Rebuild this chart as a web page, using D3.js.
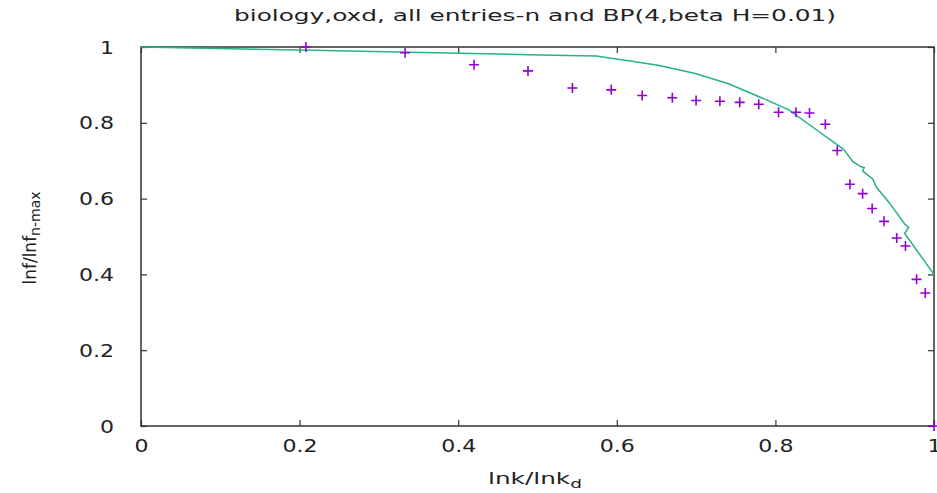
<!DOCTYPE html>
<html>
<head>
<meta charset="utf-8">
<script src="https://cdn.jsdelivr.net/npm/d3@7"></script>
<style>
  html, body { margin: 0; padding: 0; background: #fff; }
  svg { display: block; }
  text { font-family: "DejaVu Sans", sans-serif; fill: #222; }
</style>
</head>
<body>
<svg id="chart" width="937" height="493"></svg>
<script>
// Measured data: normalised information vs normalised lnk
const titleText = "biology,oxd, all entries-n and BP(4,beta H=0.01)";
const xTicks = [0, 0.2, 0.4, 0.6, 0.8, 1];
const yTicks = [0, 0.2, 0.4, 0.6, 0.8, 1];

// "all entries-n" points
const entryX = [0.208, 0.333, 0.420, 0.488, 0.544, 0.593, 0.632, 0.670, 0.700, 0.730,
                0.755, 0.779, 0.804, 0.826, 0.843, 0.863, 0.878, 0.894, 0.910, 0.922,
                0.937, 0.953, 0.964, 0.978, 0.989, 1.000];
const entryY = [1.000, 0.985, 0.953, 0.937, 0.892, 0.887, 0.872, 0.866, 0.859, 0.857,
                0.854, 0.849, 0.828, 0.828, 0.826, 0.796, 0.727, 0.638, 0.613, 0.574,
                0.540, 0.496, 0.475, 0.387, 0.351, 0.000];

// BP(4, beta H=0.01) curve
const bpX = [0.000, 0.200, 0.503, 0.574, 0.627, 0.652, 0.699, 0.741, 0.788, 0.817,
             0.852, 0.886, 0.898, 0.908, 0.912, 0.910, 0.923, 0.927, 0.944, 0.963,
             0.968, 0.963, 0.999, 1.000];
const bpY = [1.000, 0.992, 0.979, 0.976, 0.960, 0.952, 0.930, 0.903, 0.861, 0.834,
             0.781, 0.730, 0.697, 0.684, 0.682, 0.673, 0.651, 0.631, 0.588, 0.533,
             0.524, 0.508, 0.403, 0.398];

const svg = d3.select("#chart");
const margin = { left: 141, top: 47, right: 937 - 934, bottom: 493 - 426 };
const W = 934 - 141, H = 426 - 47;
const g = svg.append("g").attr("transform", `translate(${margin.left},${margin.top})`);

const x = d3.scaleLinear().domain([0, 1]).range([0, W]);
const y = d3.scaleLinear().domain([0, 1]).range([H, 0]);

const tickFont = 17, tickStretch = 1.3;
const fmt = d => d === 0 || d === 1 ? String(d) : d3.format(".1f")(d);

// bottom axis with inward ticks
const xAxis = g.append("g").attr("transform", `translate(0,${H})`)
  .call(d3.axisBottom(x).tickValues(xTicks).tickFormat(fmt).tickSize(-6).tickSizeOuter(0));
xAxis.selectAll(".tick text")
  .attr("y", 26).attr("dy", 0)
  .style("font-size", tickFont + "px")
  .attr("transform", `scale(${tickStretch},1)`);

// left axis
const yAxis = g.append("g")
  .call(d3.axisLeft(y).tickValues(yTicks).tickFormat(fmt).tickSize(-6).tickSizeOuter(0));
yAxis.selectAll(".tick text")
  .attr("x", -27 / tickStretch).attr("dy", "0.36em")
  .style("font-size", tickFont + "px")
  .attr("transform", `scale(${tickStretch},1)`);

// mirrored ticks on top and right
g.append("g").call(d3.axisTop(x).tickValues(xTicks).tickFormat("").tickSize(-6).tickSizeOuter(0));
g.append("g").attr("transform", `translate(${W},0)`)
  .call(d3.axisRight(y).tickValues(yTicks).tickFormat("").tickSize(-6).tickSizeOuter(0));

g.selectAll(".domain").remove();
g.selectAll(".tick line").attr("stroke", "#333").attr("stroke-width", 1.2);

// frame
g.append("rect").attr("x", 0).attr("y", 0).attr("width", W).attr("height", H)
  .attr("fill", "none").attr("stroke", "#333").attr("stroke-width", 1.5);

// BP curve
const bpData = bpX.map((v, i) => [v, bpY[i]]);
g.append("path").datum(bpData)
  .attr("fill", "none").attr("stroke", "#26b08c").attr("stroke-width", 1.5)
  .attr("d", d3.line().x(d => x(d[0])).y(d => y(d[1])));

// entry points as "+" markers
const entryData = entryX.map((v, i) => [v, entryY[i]]);
const s = 5;
g.append("g").selectAll("path").data(entryData).join("path")
  .attr("transform", d => `translate(${x(d[0])},${y(d[1])})`)
  .attr("d", `M${-s},0H${s}M0,${-s}V${s}`)
  .attr("stroke", "#9400d3").attr("stroke-width", 1.6).attr("fill", "none");

// horizontally stretched label helper
function stretchedLabel(cx, cy, build, width) {
  const grp = svg.append("g").attr("transform", `translate(${cx},${cy})`);
  const inner = grp.append("g");
  const t = inner.append("text").attr("text-anchor", "middle");
  build(t);
  const bb = t.node().getBBox();
  inner.attr("transform", `scale(${width / bb.width},1)`);
  return grp;
}

// title
svg.append("text")
  .attr("x", 535).attr("y", 21)
  .attr("text-anchor", "middle")
  .attr("textLength", 602).attr("lengthAdjust", "spacingAndGlyphs")
  .style("font-size", "16px")
  .text(titleText);

// x axis label
stretchedLabel(535, 484, t => {
  t.style("font-size", "16px");
  t.append("tspan").text("lnk/lnk");
  t.append("tspan").attr("dy", 4).style("font-size", "12px").text("d");
}, 94);

// y axis label (rotated)
const yl = svg.append("text")
  .attr("transform", "translate(36,238) rotate(-90)")
  .attr("text-anchor", "middle")
  .style("font-size", "17px");
yl.append("tspan").text("lnf/lnf");
yl.append("tspan").attr("dy", 4).style("font-size", "14px").text("n-max");
</script>
</body>
</html>
